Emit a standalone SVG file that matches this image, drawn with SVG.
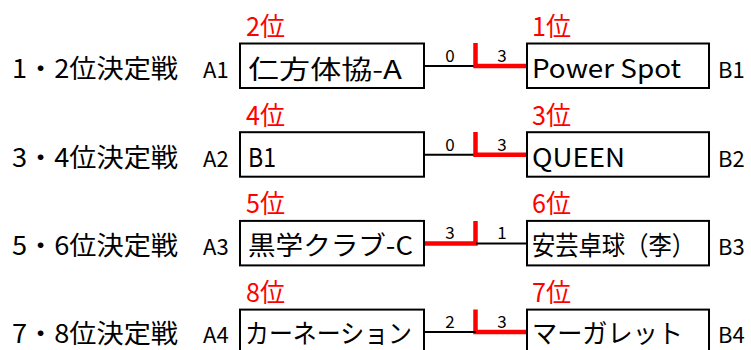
<svg xmlns="http://www.w3.org/2000/svg" width="751" height="350" viewBox="0 0 751 350">
<style>
.t{font-family:"Noto Sans CJK JP","Liberation Sans",sans-serif;fill:#000}
.lbl{font-size:26px}
.ab{font-size:22px}
.bx{font-size:26px}
.rk{font-size:26px;fill:#ff0000}
.sc{font-size:17px;text-anchor:middle}
.box{fill:#fff;stroke:#000;stroke-width:2}
.bl{stroke:#000;stroke-width:2;fill:none}
.rd{stroke:#ff0000;stroke-width:4.5;fill:none}
</style>
<rect width="751" height="350" fill="#fff"/>
<g id="connectors">
<path class="bl" d="M424 66 H476"/>
<path class="rd" d="M475.5 43 V66 H527"/>
<path class="bl" d="M424 154.7 H476"/>
<path class="rd" d="M475.5 132 V154.7 H527"/>
<path class="rd" d="M424 243.4 H475.5 V221"/>
<path class="bl" d="M476 243.4 H527"/>
<path class="rd" d="M475.5 309.5 V332 H527"/>
<path class="bl" d="M424 332 H476"/>
<text class="t sc" x="450" y="62">0</text><text class="t sc" x="502" y="62">3</text>
<text class="t sc" x="450" y="150.7">0</text><text class="t sc" x="502" y="150.7">3</text>
<text class="t sc" x="450" y="239.4">3</text><text class="t sc" x="502" y="239.4">1</text>
<text class="t sc" x="450" y="328">2</text><text class="t sc" x="502" y="328">3</text>
</g>
<g id="row1">
<text class="t lbl" x="12" y="78" textLength="166" lengthAdjust="spacingAndGlyphs">1・2位決定戦</text>
<text class="t ab" x="203" y="78">A1</text>
<text class="t rk" x="246" y="36" textLength="39" lengthAdjust="spacingAndGlyphs">2位</text>
<g id="A1"><rect class="box" x="240" y="43.5" width="184" height="44.5"/><text class="t bx" x="248" y="79" textLength="154" lengthAdjust="spacingAndGlyphs">仁方体協-A</text></g>
<g id="B1"><rect class="box" x="527" y="43.5" width="182" height="44.5"/><text class="t bx" x="532" y="78" textLength="149" lengthAdjust="spacingAndGlyphs">Power Spot</text></g>
<text class="t rk" x="532" y="36" textLength="39" lengthAdjust="spacingAndGlyphs">1位</text>
<text class="t ab" x="718" y="78">B1</text>
</g>
<g id="row2">
<text class="t lbl" x="12" y="166.7" textLength="166" lengthAdjust="spacingAndGlyphs">3・4位決定戦</text>
<text class="t ab" x="203" y="166.7">A2</text>
<text class="t rk" x="246" y="124.7" textLength="39" lengthAdjust="spacingAndGlyphs">4位</text>
<g id="A2"><rect class="box" x="240" y="132.2" width="184" height="44.5"/><text class="t bx" x="248" y="166.7" textLength="28" lengthAdjust="spacingAndGlyphs">B1</text></g>
<g id="B2"><rect class="box" x="527" y="132.2" width="182" height="44.5"/><text class="t bx" x="532" y="166.7" textLength="93" lengthAdjust="spacingAndGlyphs">QUEEN</text></g>
<text class="t rk" x="532" y="124.7" textLength="39" lengthAdjust="spacingAndGlyphs">3位</text>
<text class="t ab" x="718" y="166.7">B2</text>
</g>
<g id="row3">
<text class="t lbl" x="12" y="255.4" textLength="166" lengthAdjust="spacingAndGlyphs">5・6位決定戦</text>
<text class="t ab" x="203" y="255.4">A3</text>
<text class="t rk" x="246" y="213.4" textLength="39" lengthAdjust="spacingAndGlyphs">5位</text>
<g id="A3"><rect class="box" x="240" y="220.9" width="184" height="44.5"/><text class="t bx" x="248" y="255" textLength="165" lengthAdjust="spacingAndGlyphs">黒学クラブ-C</text></g>
<g id="B3"><rect class="box" x="527" y="220.9" width="182" height="44.5"/><text class="t bx" x="532" y="255" textLength="163" lengthAdjust="spacingAndGlyphs">安芸卓球（李）</text></g>
<text class="t rk" x="532" y="213.4" textLength="39" lengthAdjust="spacingAndGlyphs">6位</text>
<text class="t ab" x="718" y="255.4">B3</text>
</g>
<g id="row4">
<text class="t lbl" x="12" y="343" textLength="166" lengthAdjust="spacingAndGlyphs">7・8位決定戦</text>
<text class="t ab" x="203" y="343">A4</text>
<text class="t rk" x="246" y="302" textLength="39" lengthAdjust="spacingAndGlyphs">8位</text>
<g id="A4"><rect class="box" x="240" y="309.6" width="184" height="44.5"/><text class="t bx" x="245" y="343" textLength="167" lengthAdjust="spacingAndGlyphs">カーネーション</text></g>
<g id="B4"><rect class="box" x="527" y="309.6" width="182" height="44.5"/><text class="t bx" x="532" y="343" textLength="151" lengthAdjust="spacingAndGlyphs">マーガレット</text></g>
<text class="t rk" x="532" y="302" textLength="39" lengthAdjust="spacingAndGlyphs">7位</text>
<text class="t ab" x="718" y="343">B4</text>
</g>
</svg>
